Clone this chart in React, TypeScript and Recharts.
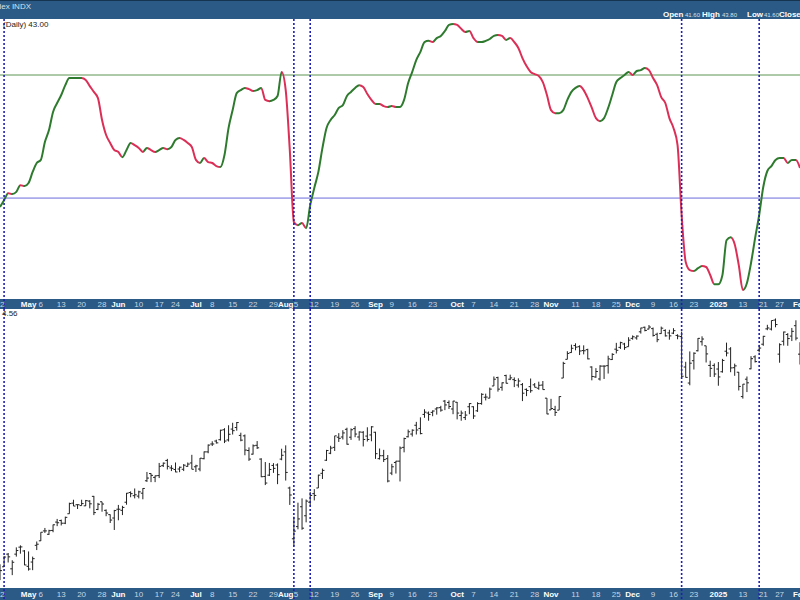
import React from 'react';
import { LineChart, Line, XAxis, YAxis, ReferenceLine, ErrorBar } from 'recharts';

// trading sessions, one row per month
const sessions: [string, number[]][] = [
  ['2024-04', [22, 23, 24, 25, 26, 29, 30]],
  ['2024-05', [1, 2, 3, 6, 7, 8, 9, 10, 13, 14, 15, 16, 17, 20, 21, 22, 23, 24, 28, 29, 30, 31]],
  ['2024-06', [3, 4, 5, 6, 7, 10, 11, 12, 13, 14, 17, 18, 20, 21, 24, 25, 26, 27, 28]],
  ['2024-07', [1, 2, 3, 5, 8, 9, 10, 11, 12, 15, 16, 17, 18, 19, 22, 23, 24, 25, 26, 29, 30, 31]],
  ['2024-08', [1, 2, 5, 6, 7, 8, 9, 12, 13, 14, 15, 16, 19, 20, 21, 22, 23, 26, 27, 28, 29, 30]],
  ['2024-09', [3, 4, 5, 6, 9, 10, 11, 12, 13, 16, 17, 18, 19, 20, 23, 24, 25, 26, 27, 30]],
  ['2024-10', [1, 2, 3, 4, 7, 8, 9, 10, 11, 14, 15, 16, 17, 18, 21, 22, 23, 24, 25, 28, 29, 30, 31]],
  ['2024-11', [1, 4, 5, 6, 7, 8, 11, 12, 13, 14, 15, 18, 19, 20, 21, 22, 25, 26, 27, 29]],
  ['2024-12', [2, 3, 4, 5, 6, 9, 10, 11, 12, 13, 16, 17, 18, 19, 20, 23, 24, 26, 27, 30, 31]],
  ['2025-01', [2, 3, 6, 7, 8, 10, 13, 14, 15, 16, 17, 21, 22, 23, 24, 27, 28, 29, 30, 31]],
  ['2025-02', [3]],
];

const tradingDays = sessions.flatMap(([m, days]) => days.map((d) => `${m}-${String(d).padStart(2, '0')}`));

// bullish percent (upper panel)
const bpi = [
  27.1, 29.3, 31.6, 31.3, 32.0, 34.2, 33.9,
  34.9, 38.5, 41.4, 42.4, 48.2, 52.1, 58.0, 60.9, 63.5, 66.7, 69.0, 69.0, 69.0, 69.0, 68.4, 66.4, 64.5, 62.5, 55.4, 50.5, 47.9, 45.6,
  45.0, 43.3, 45.6, 47.9, 47.2, 46.3, 45.0, 46.3, 45.6, 45.0, 45.6, 46.3, 45.9, 46.6, 48.9, 49.5, 48.9, 47.9, 46.6,
  42.4, 41.4, 43.0, 41.7, 41.4, 40.4, 40.1, 44.0, 52.8, 58.6, 64.1, 65.1, 65.8, 65.4, 64.8, 65.1, 65.8, 61.9, 61.5, 61.9, 63.2, 71.0,
  65.1, 45.6, 22.2, 21.2, 21.9, 20.2, 27.7, 33.3, 38.5, 46.3, 52.8, 55.4, 57.0, 59.3, 60.2, 63.2, 64.5, 65.8, 66.7, 66.1, 63.8, 61.9,
  60.6, 60.6, 59.9, 59.6, 59.9, 59.6, 59.6, 61.9, 67.4, 71.0, 74.9, 77.5, 80.7, 81.1, 80.7, 82.0, 82.7, 84.3, 86.3, 86.6,
  86.3, 85.0, 84.0, 84.3, 82.0, 80.7, 80.7, 81.1, 81.7, 82.7, 83.0, 82.7, 81.4, 82.0, 80.7, 78.8, 75.5, 72.9, 71.0, 70.3, 69.7, 67.7, 63.5,
  58.6, 57.6, 57.6, 58.6, 61.9, 64.5, 65.8, 66.4, 65.1, 62.5, 59.3, 56.0, 55.0, 56.0, 59.3, 63.5, 67.7, 69.0, 70.0, 71.0,
  70.0, 71.3, 71.6, 72.3, 71.6, 69.0, 66.7, 62.8, 60.9, 56.0, 52.8, 47.2, 24.5, 9.2, 6.6, 6.3, 7.2, 7.9, 7.6, 5.0, 2.0,
  2.0, 5.0, 16.3, 17.3, 15.0, 8.2, 0.1, 2.4, 8.9, 17.0, 24.5, 33.6, 38.8, 40.4, 42.4, 43.0, 43.0, 41.4, 42.4, 42.4,
  39.8,
];

// price bars (lower panel)
const opens = [
  4988, 5028, 5084, 5019, 5084, 5115, 5098,
  5030, 5049, 5123, 5143, 5187, 5172, 5189, 5226, 5233, 5221, 5263, 5310, 5303, 5299, 5298, 5319, 5340, 5282, 5316, 5278, 5259, 5244,
  5283, 5278, 5314, 5357, 5343, 5341, 5354, 5409, 5441, 5424, 5432, 5476, 5499, 5466, 5459, 5461, 5460, 5473, 5488,
  5471, 5461, 5507, 5537, 5572, 5585, 5591, 5635, 5590, 5638, 5645, 5610, 5608, 5543, 5527, 5566, 5505, 5428, 5434, 5477, 5479, 5505,
  5537, 5377, 5152, 5206, 5294, 5254, 5314, 5352, 5377, 5442, 5500, 5531, 5557, 5602, 5603, 5637, 5602, 5640, 5603, 5624, 5607, 5612,
  5624, 5507, 5520, 5507, 5443, 5490, 5496, 5557, 5604, 5616, 5655, 5641, 5703, 5709, 5712, 5727, 5733, 5762, 5756, 5727,
  5757, 5698, 5689, 5737, 5737, 5719, 5751, 5779, 5775, 5829, 5866, 5823, 5875, 5859, 5857, 5833, 5835, 5814, 5826, 5834, 5819, 5833, 5775,
  5723, 5725, 5722, 5864, 5947, 5977, 6008, 6003, 5986, 5990, 5913, 5869, 5860, 5917, 5919, 5946, 5992, 6000, 6015, 6003,
  6040, 6042, 6069, 6089, 6081, 6083, 6058, 6061, 6075, 6064, 6063, 6053, 6048, 5913, 5842, 5941, 5985, 6025, 6007, 5920, 5920,
  5904, 5892, 5983, 5993, 5910, 5890, 5782, 5859, 5905, 5958, 5987, 6014, 6082, 6081, 6121, 5970, 6027, 6057, 6050, 6096,
  5970,
];
const highs = [
  5039, 5076, 5089, 5057, 5114, 5123, 5102,
  5096, 5073, 5140, 5181, 5200, 5192, 5215, 5240, 5237, 5250, 5312, 5325, 5305, 5325, 5324, 5323, 5342, 5311, 5316, 5282, 5260, 5280,
  5302, 5298, 5355, 5362, 5375, 5365, 5376, 5448, 5442, 5432, 5488, 5490, 5506, 5478, 5490, 5472, 5483, 5490, 5524,
  5480, 5510, 5539, 5570, 5584, 5591, 5635, 5642, 5655, 5666, 5669, 5622, 5614, 5557, 5570, 5585, 5509, 5492, 5488, 5487, 5486, 5551,
  5566, 5383, 5250, 5312, 5331, 5326, 5360, 5372, 5436, 5463, 5546, 5564, 5608, 5620, 5633, 5644, 5641, 5651, 5628, 5629, 5646, 5651,
  5626, 5552, 5546, 5523, 5484, 5497, 5561, 5600, 5636, 5637, 5670, 5690, 5726, 5716, 5721, 5735, 5741, 5767, 5765, 5763,
  5758, 5720, 5718, 5753, 5739, 5757, 5797, 5795, 5822, 5871, 5870, 5845, 5879, 5879, 5867, 5863, 5842, 5818, 5862, 5842, 5848, 5851, 5775,
  5772, 5741, 5783, 5936, 5983, 6012, 6018, 6009, 6009, 5994, 5916, 5908, 5921, 5920, 5963, 5974, 6020, 6025, 6020, 6045,
  6053, 6053, 6087, 6092, 6099, 6088, 6065, 6092, 6080, 6078, 6085, 6058, 6070, 5936, 5982, 5978, 6041, 6049, 6007, 5941, 5929,
  5935, 5949, 6021, 6001, 5928, 5891, 5837, 5871, 5961, 5965, 6011, 6051, 6100, 6119, 6128, 6018, 6070, 6063, 6086, 6120,
  6023,
];
const lows = [
  4969, 5027, 5047, 4991, 5073, 5086, 5035,
  5011, 5013, 5102, 5142, 5178, 5169, 5181, 5208, 5211, 5217, 5263, 5297, 5284, 5299, 5297, 5287, 5257, 5279, 5272, 5252, 5222, 5191,
  5234, 5257, 5303, 5336, 5331, 5331, 5327, 5404, 5403, 5403, 5421, 5470, 5459, 5452, 5447, 5447, 5452, 5471, 5460,
  5448, 5451, 5504, 5531, 5563, 5574, 5587, 5576, 5583, 5614, 5631, 5584, 5522, 5497, 5525, 5550, 5425, 5390, 5430, 5444, 5394, 5500,
  5410, 5302, 5120, 5194, 5192, 5225, 5298, 5322, 5377, 5417, 5497, 5527, 5541, 5581, 5592, 5569, 5590, 5602, 5587, 5561, 5583, 5584,
  5506, 5503, 5492, 5402, 5434, 5441, 5406, 5535, 5601, 5605, 5614, 5615, 5688, 5675, 5695, 5702, 5715, 5722, 5727, 5704,
  5681, 5675, 5678, 5704, 5683, 5714, 5746, 5765, 5775, 5829, 5804, 5808, 5840, 5855, 5824, 5822, 5762, 5784, 5799, 5823, 5812, 5813, 5704,
  5723, 5696, 5722, 5864, 5947, 5976, 5987, 5966, 5969, 5947, 5854, 5865, 5853, 5860, 5884, 5944, 5973, 5993, 5989, 6003,
  6034, 6034, 6061, 6071, 6080, 6048, 6023, 6060, 6048, 6034, 6059, 6036, 5867, 5866, 5832, 5902, 5982, 6008, 5933, 5869, 5869,
  5830, 5888, 5960, 5890, 5874, 5809, 5773, 5802, 5903, 5933, 5978, 6007, 6076, 6075, 6089, 5932, 6008, 6007, 6028, 6031,
  5924,
];
const closes = [
  5011, 5071, 5072, 5048, 5100, 5116, 5036,
  5018, 5064, 5128, 5181, 5187, 5188, 5214, 5223, 5221, 5247, 5308, 5297, 5303, 5308, 5321, 5307, 5268, 5305, 5306, 5266, 5235, 5277,
  5283, 5291, 5354, 5352, 5347, 5360, 5375, 5421, 5433, 5431, 5473, 5487, 5473, 5464, 5448, 5469, 5478, 5483, 5460,
  5475, 5509, 5537, 5567, 5572, 5577, 5633, 5585, 5615, 5631, 5667, 5589, 5545, 5505, 5564, 5555, 5427, 5399, 5459, 5464, 5436, 5522,
  5446, 5346, 5186, 5240, 5199, 5319, 5344, 5344, 5434, 5455, 5543, 5554, 5608, 5597, 5621, 5571, 5635, 5616, 5625, 5592, 5592, 5648,
  5529, 5520, 5503, 5408, 5471, 5496, 5554, 5596, 5626, 5633, 5634, 5618, 5713, 5703, 5718, 5732, 5722, 5745, 5738, 5762,
  5709, 5709, 5700, 5751, 5696, 5751, 5792, 5780, 5815, 5859, 5815, 5843, 5841, 5865, 5853, 5851, 5797, 5809, 5808, 5823, 5832, 5813, 5705,
  5729, 5712, 5782, 5929, 5973, 5996, 6001, 5984, 5985, 5949, 5871, 5893, 5917, 5917, 5949, 5969, 5987, 6021, 5999, 6032,
  6047, 6050, 6086, 6075, 6090, 6053, 6034, 6085, 6051, 6051, 6074, 6050, 5872, 5867, 5930, 5974, 6040, 6037, 5971, 5907, 5882,
  5869, 5942, 5975, 5909, 5918, 5827, 5837, 5843, 5950, 5937, 5997, 6049, 6086, 6119, 6101, 6012, 6068, 6039, 6071, 6041,
  5994,
];

const tickDays = [
  '2024-04-22', '2024-05-01', '2024-05-06', '2024-05-13', '2024-05-20', '2024-05-28',
  '2024-06-03', '2024-06-10', '2024-06-17', '2024-06-24',
  '2024-07-01', '2024-07-08', '2024-07-15', '2024-07-22', '2024-07-29',
  '2024-08-01', '2024-08-05', '2024-08-12', '2024-08-19', '2024-08-26',
  '2024-09-03', '2024-09-09', '2024-09-16', '2024-09-23',
  '2024-10-01', '2024-10-07', '2024-10-14', '2024-10-21', '2024-10-28',
  '2024-11-01', '2024-11-11', '2024-11-18', '2024-11-25',
  '2024-12-02', '2024-12-09', '2024-12-16', '2024-12-23',
  '2025-01-02', '2025-01-13', '2025-01-21', '2025-01-27', '2025-02-03',
];
const tickLabels = [
  '22', 'May', '6', '13', '20', '28',
  'Jun', '10', '17', '24',
  'Jul', '8', '15', '22', '29',
  'Aug', '5', '12', '19', '26',
  'Sep', '9', '16', '23',
  'Oct', '7', '14', '21', '28',
  'Nov', '11', '18', '25',
  'Dec', '9', '16', '23',
  '2025', '13', '21', '27', 'Feb',
];

const markerDays = ['2024-04-23', '2024-08-05', '2024-08-09', '2024-12-18', '2025-01-17'];

const upperRows = tradingDays.map((date, i) => ({ date, bpi: bpi[i] }));
const lowerRows = tradingDays.map((date, i) => ({
  date,
  open: opens[i],
  close: closes[i],
  range: [closes[i] - lows[i], highs[i] - closes[i]],
}));

const GREEN = '#2e7a2e';
const RED = '#dc2f57';
const BAR_BLUE = '#2a5a85';
const MARKER = '#2020b0';
const FONT = '"Liberation Sans", Arial, sans-serif';

// value domains; the lower bound past the plot runs the markers through the date strip
const upperDomain = [-2.8, 88.2];
const upperStripEnd = -6.1;
const lowerDomain = [4934, 6170];
const lowerStripEnd = 4880;

const labelOf: Record<string, string> = {};
tickDays.forEach((d, i) => (labelOf[d] = tickLabels[i]));

const makeTick = (dy: number) => (props: any) => {
  const { x, y, payload } = props;
  const label = labelOf[payload.value] ?? '';
  const strong = label.length > 2;
  return (
    <text
      x={x}
      y={y + dy}
      dx={label === '5' ? 2 : 0}
      textAnchor="middle"
      fontFamily={FONT}
      fontSize={8}
      fontWeight={strong ? 700 : 400}
      fill={strong ? '#ffffff' : '#c8d5e2'}
    >
      {label}
    </text>
  );
};

const OpenTick = (props: any) => {
  const { cx, cy, index } = props;
  if (cx == null || cy == null) return <g key={`o${index}`} />;
  return <line key={`o${index}`} x1={cx - 2} x2={cx} y1={cy} y2={cy} stroke="#222" strokeWidth={1} />;
};

const CloseTick = (props: any) => {
  const { cx, cy, index } = props;
  if (cx == null || cy == null) return <g key={`c${index}`} />;
  return <line key={`c${index}`} x1={cx} x2={cx + 2} y1={cy} y2={cy} stroke="#222" strokeWidth={1} />;
};

// green while rising, red while falling, switching at each session
const last = bpi.length - 1;
const strokeStops = bpi.slice(1).flatMap((v, i) => {
  const color = v >= bpi[i] ? GREEN : RED;
  return [
    <stop key={`a${i}`} offset={i / last} stopColor={color} />,
    <stop key={`b${i}`} offset={(i + 1) / last} stopColor={color} />,
  ];
});

const markers = (top: number, bottom: number) =>
  markerDays.map((d) => (
    <ReferenceLine
      key={d}
      segment={[
        { x: d, y: top },
        { x: d, y: bottom },
      ]}
      ifOverflow="visible"
      stroke={MARKER}
      strokeWidth={1.6}
      strokeDasharray="2 2"
    />
  ));

const numStyle: React.CSSProperties = { position: 'absolute', top: 11, fontSize: 6, color: '#d7e1eb' };
const keyStyle: React.CSSProperties = { position: 'absolute', top: 9, fontSize: 8, fontWeight: 700, color: '#fff' };

export default function App() {
  return (
    <div
      style={{
        position: 'fixed',
        left: 0,
        top: 0,
        width: 800,
        height: 600,
        overflow: 'hidden',
        background: '#ffffff',
        fontFamily: FONT,
      }}
    >
      {/* title strip */}
      <div
        style={{
          position: 'absolute',
          left: 0,
          top: 0,
          width: 800,
          height: 19,
          background: BAR_BLUE,
          borderTop: '1px solid #15344f',
          boxSizing: 'border-box',
          overflow: 'hidden',
          whiteSpace: 'nowrap',
        }}
      >
        <div style={{ position: 'absolute', right: 769, top: 1, color: '#d7e1eb', fontSize: 8 }}>
          S&amp;P 500 Bullish Percent Index INDX
        </div>
        <span style={{ ...keyStyle, left: 663 }}>Open</span>
        <span style={{ ...numStyle, left: 685 }}>41.60</span>
        <span style={{ ...keyStyle, left: 702 }}>High</span>
        <span style={{ ...numStyle, left: 722 }}>43.80</span>
        <span style={{ ...keyStyle, left: 747 }}>Low</span>
        <span style={{ ...numStyle, left: 764 }}>41.60</span>
        <span style={{ ...keyStyle, left: 779 }}>Close</span>
      </div>

      {/* date strips */}
      <div style={{ position: 'absolute', left: 0, top: 299, width: 800, height: 10, background: BAR_BLUE }} />
      <div style={{ position: 'absolute', left: 0, top: 588, width: 800, height: 12, background: BAR_BLUE }} />

      <div style={{ position: 'absolute', left: 0, top: 19 }}>
        <LineChart width={800} height={290} data={upperRows} margin={{ top: 0, right: 0, bottom: 0, left: 0 }}>
          <defs>
            <linearGradient id="bpiStroke" x1="0" y1="0" x2="1" y2="0">
              {strokeStops}
            </linearGradient>
          </defs>
          <XAxis
            dataKey="date"
            scale="point"
            padding={{ left: 0, right: 0 }}
            ticks={tickDays}
            interval={0}
            height={10}
            tickSize={0}
            tickMargin={0}
            axisLine={false}
            tickLine={false}
            tick={makeTick(8)}
          />
          <YAxis hide domain={upperDomain} allowDataOverflow />
          <ReferenceLine y={70} stroke="#5d9553" strokeWidth={1} />
          <ReferenceLine y={30} stroke="#6b6bdc" strokeWidth={1} />
          <Line
            dataKey="bpi"
            type="monotone"
            stroke="url(#bpiStroke)"
            strokeWidth={2}
            dot={false}
            activeDot={false}
            isAnimationActive={false}
          />
          {markers(upperDomain[1], upperStripEnd)}
        </LineChart>
      </div>

      <div style={{ position: 'absolute', left: 0, top: 309 }}>
        <LineChart width={800} height={291} data={lowerRows} margin={{ top: 0, right: 0, bottom: 0, left: 0 }}>
          <XAxis
            dataKey="date"
            scale="point"
            padding={{ left: 0, right: 0 }}
            ticks={tickDays}
            interval={0}
            height={12}
            tickSize={0}
            tickMargin={0}
            axisLine={false}
            tickLine={false}
            tick={makeTick(9)}
          />
          <YAxis hide domain={lowerDomain} allowDataOverflow />
          <Line dataKey="close" stroke="none" dot={CloseTick} activeDot={false} isAnimationActive={false}>
            <ErrorBar dataKey="range" width={0} stroke="#222" strokeWidth={1} direction="y" isAnimationActive={false} />
          </Line>
          <Line dataKey="open" stroke="none" dot={OpenTick} activeDot={false} isAnimationActive={false} />
          {markers(lowerDomain[1], lowerStripEnd)}
        </LineChart>
      </div>

      {/* panel captions */}
      <div style={{ position: 'absolute', left: 3, top: 20, fontSize: 8, color: '#222', whiteSpace: 'nowrap' }}>
        (Daily) 43.00
      </div>
      <div style={{ position: 'absolute', left: 2, top: 309, fontSize: 8, color: '#222', whiteSpace: 'nowrap' }}>
        4.56
      </div>
    </div>
  );
}
